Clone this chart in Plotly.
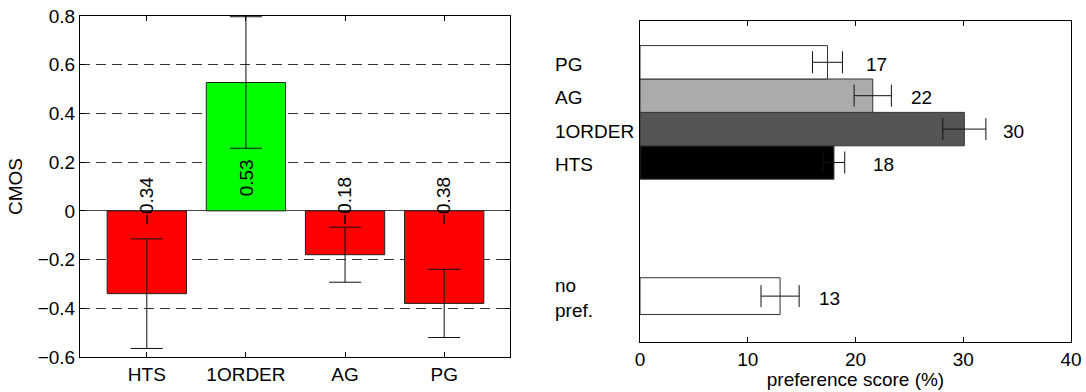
import plotly.graph_objects as go

# ---------------- data ----------------
cmos_categories = ["HTS", "1ORDER", "AG", "PG"]
cmos_values = [-0.34, 0.527, -0.18, -0.38]
cmos_errors = [0.225, 0.27, 0.113, 0.14]

pref_categories = ["HTS", "1ORDER", "AG", "PG", "no pref."]
pref_values = [18.0, 30.1, 21.6, 17.4, 13.0]
pref_errors = [1.0, 2.0, 1.73, 1.39, 1.77]
pref_labels = ["18", "30", "22", "17", "13"]
pref_ticks = [0, 10, 20, 30, 40]

# ---------------- layout constants ----------------
W, H = 1086, 392
FONT = "Liberation Sans, Arial, sans-serif"
FS = 19

def px_x(p):
    return p / W

def px_y(p):
    return 1 - p / H

# bar slot positions on the right (numeric y axis)
pref_slots = [0, 1, 2, 3, -4]
pref_widths = [1, 1, 1, 1, 1.1]
pref_colors = ["#000000", "#555555", "#ababab", "#ffffff", "#ffffff"]

fig = go.Figure()

# ---- left: CMOS bars ----
fig.add_trace(go.Bar(
    x=cmos_categories, y=cmos_values, width=0.8,
    marker=dict(color=["#ff0000" if v < 0 else "#00ff00" for v in cmos_values],
                line=dict(color="#222222", width=1)),
    error_y=dict(type="data", array=cmos_errors, color="#111111", thickness=1, width=16),
    xaxis="x", yaxis="y", showlegend=False, hoverinfo="skip",
))

# ---- right: preference bars ----
fig.add_trace(go.Bar(
    x=pref_values, y=pref_slots, width=pref_widths, orientation="h",
    marker=dict(color=pref_colors, line=dict(color="#333333", width=1)),
    error_x=dict(type="data", array=pref_errors, color="#111111", thickness=1, width=11),
    xaxis="x2", yaxis="y2", showlegend=False, hoverinfo="skip",
))

annotations = []
# rotated CMOS value labels
for c, v in zip(cmos_categories, cmos_values):
    txt = f"{v:.2f}".replace("-", "\u2212")
    annotations.append(dict(
        x=c, y=0, xref="x", yref="y", text=txt, textangle=-90,
        showarrow=False, xanchor="center", yanchor="bottom",
        yshift=(-16 if v < 0 else 13), font=dict(family=FONT, size=FS, color="#000"),
    ))

# preference value labels
for s, v, lab in zip(pref_slots, pref_values, pref_labels):
    annotations.append(dict(
        x=v + 3.4, y=s, xref="x2", yref="y2", text=lab, showarrow=False,
        xanchor="left", yanchor="middle", yshift=-2,
        font=dict(family=FONT, size=FS, color="#000"),
    ))

# left-aligned category labels for the right chart
for s, c in zip(pref_slots, pref_categories):
    txt = c.replace(" ", "<br>")
    annotations.append(dict(
        x=px_x(553), y=s, xref="paper", yref="y2", text=txt, showarrow=False,
        xanchor="left", yanchor="middle", align="left", yshift=-2,
        font=dict(family=FONT, size=FS, color="#000"),
    ))

axis_common = dict(
    showline=True, linecolor="#000", linewidth=1, mirror="ticks",
    ticks="inside", tickcolor="#000", ticklen=5, tickwidth=1,
    tickfont=dict(family=FONT, size=FS, color="#000"),
    automargin=False,
)

fig.update_layout(
    width=W, height=H,
    margin=dict(l=0, r=0, t=0, b=0),
    paper_bgcolor="white", plot_bgcolor="white",
    font=dict(family=FONT, size=FS, color="#000"),
    bargap=0,
    xaxis=dict(
        domain=[px_x(80), px_x(510)], anchor="y",
        type="category", range=[-0.674, 3.664],
        showgrid=False, zeroline=False, **axis_common,
    ),
    yaxis=dict(
        domain=[px_y(357), px_y(16)], anchor="x",
        range=[-0.6, 0.80001], dtick=0.2, tick0=0,
        showgrid=True, gridcolor="#333333", gridwidth=1, griddash="10px,6px",
        zeroline=True, zerolinecolor="#444444", zerolinewidth=1,
        title=dict(text="CMOS", standoff=10, font=dict(family=FONT, size=FS)),
        **axis_common,
    ),
    xaxis2=dict(
        domain=[px_x(640), px_x(1071)], anchor="y2",
        range=[0, 40], tickvals=pref_ticks,
        showgrid=False, zeroline=False,
        title=dict(text="preference score (%)", standoff=2, font=dict(family=FONT, size=FS)),
        **axis_common,
    ),
    yaxis2=dict(
        domain=[px_y(341.7), px_y(20.7)], anchor="x2",
        range=[-5.365, 4.245],
        showline=True, linecolor="#000", linewidth=1, mirror=True,
        ticks="", showticklabels=False, showgrid=False, zeroline=False,
        automargin=False,
    ),
    annotations=annotations,
)

# remove the default page margin so the figure fills the window exactly
fig.write_html(
    "out.html",
    config={"displayModeBar": False, "staticPlot": True},
    post_script="document.body.style.margin='0';"
                "document.documentElement.style.overflow='hidden';",
)
